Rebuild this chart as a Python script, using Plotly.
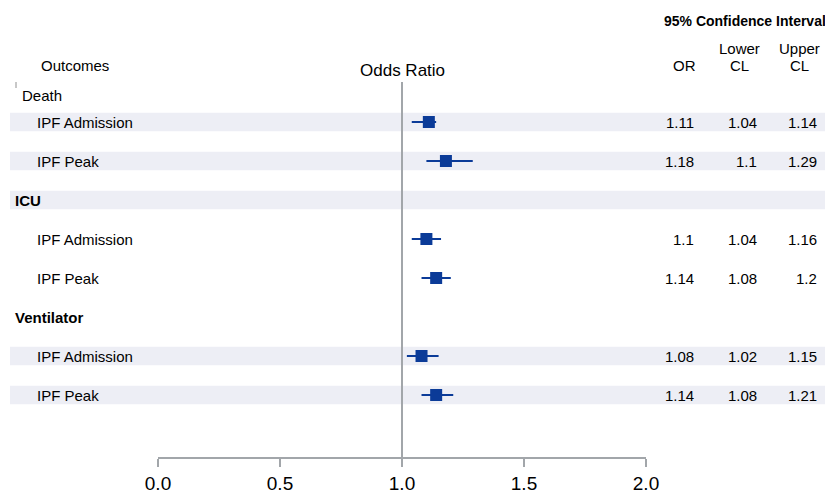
import plotly.graph_objects as go

# ---- data ----
groups = ["Death", "ICU", "Ventilator"]
subgroups = ["IPF Admission", "IPF Peak"]
or_vals = [1.11, 1.18, 1.10, 1.14, 1.08, 1.14]
lower_cl = [1.04, 1.10, 1.04, 1.08, 1.02, 1.08]
upper_cl = [1.14, 1.29, 1.16, 1.20, 1.15, 1.21]
tick_vals = [0.0, 0.5, 1.0, 1.5, 2.0]
tick_text = ["0.0", "0.5", "1.0", "1.5", "2.0"]
shaded_rows = [1, 2, 3, 7, 8]

OFF = 8                      # page body margin of the browser
W, H = 833 - OFF, 493 - OFF
BLUE = "#0B3B98"
GREY = "#A2A6AA"
BAND = "#EDEEF5"
FONT = "Liberation Sans, Arial, sans-serif"

# row layout: group header then its two sub rows
row_y = []
header_y = []
k = 0
for g in groups:
    header_y.append(k)
    k += 1
    for s in subgroups:
        row_y.append(k)
        k += 1

# screen pixel -> row coordinate (row k sits at screen pixel 83 + 39k)
def py(p):
    return (p - 83) / 39.0

def px(p):
    return (p - OFF) / W

AXIS_Y = 457
y_top = py(OFF)
y_bot = py(AXIS_Y)

fig = go.Figure()
fig.add_trace(go.Scatter(
    x=or_vals, y=row_y, mode="markers",
    marker=dict(symbol="square", size=12, color=BLUE),
    error_x=dict(type="data", symmetric=False,
                 array=[u - o for u, o in zip(upper_cl, or_vals)],
                 arrayminus=[o - l for o, l in zip(or_vals, lower_cl)],
                 width=0, thickness=2, color=BLUE),
    showlegend=False, hoverinfo="skip"))

shapes = []
for r in shaded_rows:
    shapes.append(dict(type="rect", xref="paper", yref="y", x0=px(10), x1=1,
                       y0=r - 0.24, y1=r + 0.24, fillcolor=BAND,
                       line=dict(width=0), layer="below"))
shapes.append(dict(type="line", xref="x", yref="y", x0=1, x1=1, y0=py(82), y1=y_bot,
                   line=dict(color=GREY, width=2), layer="below"))
shapes.append(dict(type="line", xref="paper", yref="y", x0=px(16), x1=px(16),
                   y0=py(82), y1=py(88), line=dict(color="#909090", width=1)))

ann = []
def txt(x, y, s, anchor="left", size=15, bold=False):
    ann.append(dict(xref="paper", yref="y", x=px(x), y=y, text=("<b>%s</b>" % s) if bold else s,
                    showarrow=False, xanchor=anchor, yanchor="middle",
                    font=dict(family=FONT, size=size, color="#000000")))

txt(39, py(65), "Outcomes")
for i, g in enumerate(groups):
    if i == 0:
        txt(20, py(95), g)
    else:
        txt(13, header_y[i], g, bold=True)
for i, y in enumerate(row_y):
    txt(35, y, subgroups[i % 2])
    txt(696, y, f"{or_vals[i]:g}", anchor="right")
    txt(759, y, f"{lower_cl[i]:g}", anchor="right")
    txt(819, y, f"{upper_cl[i]:g}", anchor="right")

txt(745, py(21), "95% Confidence Interval", anchor="center", size=14, bold=True)
txt(684, py(65), "OR", anchor="center")
txt(739, py(48), "Lower", anchor="center")
txt(739, py(65), "CL", anchor="center")
txt(799, py(48), "Upper", anchor="center")
txt(799, py(65), "CL", anchor="center")
ann.append(dict(xref="x", yref="y", x=1.0, y=py(70), text="Odds Ratio", showarrow=False,
                xanchor="center", yanchor="middle",
                font=dict(family=FONT, size=17, color="#000000")))

fig.update_layout(
    width=W, height=H, margin=dict(l=0, r=0, t=0, b=493 - AXIS_Y, autoexpand=False),
    paper_bgcolor="white", plot_bgcolor="white",
    xaxis=dict(domain=[px(158), px(646)], range=[0, 2], tickvals=tick_vals, ticktext=tick_text,
               showline=True, linecolor=GREY, linewidth=2, ticks="outside", ticklen=8,
               tickwidth=2, tickcolor=GREY, showgrid=False, zeroline=False,
               tickfont=dict(family=FONT, size=19, color="#000000")),
    yaxis=dict(range=[y_bot, y_top], visible=False, showgrid=False, zeroline=False),
    shapes=shapes, annotations=ann,
)

fig.write_html("out.html")
